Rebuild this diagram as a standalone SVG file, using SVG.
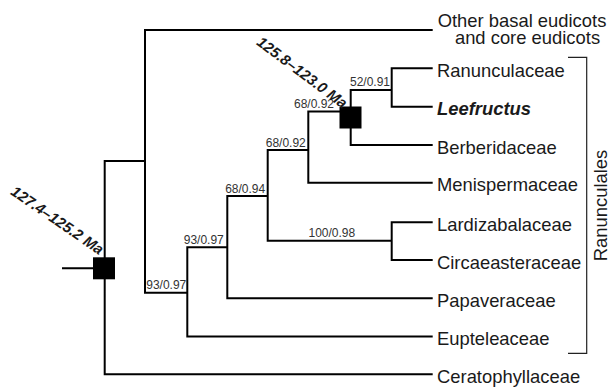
<svg xmlns="http://www.w3.org/2000/svg" width="610" height="388" viewBox="0 0 610 388">
<style>
.br{fill:none;stroke:#000;stroke-width:2;stroke-linecap:square;stroke-linejoin:miter}
.lf{font-family:"Liberation Sans",Arial,sans-serif;font-size:18.4px;fill:#1a1a1a}
.sp{font-family:"Liberation Sans",Arial,sans-serif;font-size:12px;fill:#333}
.age{font-family:"Liberation Sans",Arial,sans-serif;font-size:15px;font-weight:bold;font-style:italic;fill:#1a1a1a}
.sq{fill:#000}
</style>
<rect width="610" height="388" fill="#fff"/>
<g id="connectors">
<path class="br" d="M63,268.3H104.7M104.7,161V374.3H431.7M104.7,161H145M145,30V292.7M145,30H431.7M145,292.7H187.3M187.3,247.3V336.6H431.7M187.3,247.3H227.3M227.3,196V298.3H431.7M227.3,196H267.7M267.7,150V240.7H391.7M391.7,222.3V260M391.7,222.3H431.7M391.7,260H431.7M267.7,150H308.3M308.3,111.5V182.7H431.7M308.3,111.5H350.7M350.7,90V145H431.7M350.7,90H391.7M391.7,68.3V106.7M391.7,68.3H431.7M391.7,106.7H431.7"/>
<path d="M568,57.3H586.7V353.3H568" fill="none" stroke="#222" stroke-width="1.2"/>
</g>
<g id="root">
<rect class="sq" x="93" y="257.3" width="22" height="22"/>
<text class="age" transform="translate(54.5,224.5) rotate(34.5)" text-anchor="middle">127.4–125.2 Ma</text>
</g>
<g id="node-basal">
<text class="sp" x="186.3" y="289.3" text-anchor="end">93/0.97</text>
</g>
<g id="node-papav">
<text class="sp" x="223.8" y="243.6" text-anchor="end">93/0.97</text>
</g>
<g id="node-lardiz">
<text class="sp" x="265.2" y="192.6" text-anchor="end">68/0.94</text>
</g>
<g id="node-menisp">
<text class="sp" x="305.8" y="146.6" text-anchor="end">68/0.92</text>
</g>
<g id="node-berber">
<rect class="sq" x="339.5" y="106.5" width="22" height="22"/>
<text class="sp" x="334" y="108.3" text-anchor="end">68/0.92</text>
<text class="age" transform="translate(299,76.5) rotate(37)" text-anchor="middle">125.8–123.0 Ma</text>
</g>
<g id="node-ranunc">
<text class="sp" x="390" y="86" text-anchor="end">52/0.91</text>
</g>
<g id="node-lardcirc">
<text class="sp" x="308.5" y="236.8">100/0.98</text>
</g>
<g id="leaf-other">
<text class="lf" font-size="18.8" text-anchor="middle"><tspan x="522" y="26.5">Other basal eudicots</tspan><tspan x="527.5" y="43.5">and core eudicots</tspan></text>
</g>
<g id="leaf-ranunculaceae"><text class="lf" x="437" y="77">Ranunculaceae</text></g>
<g id="leaf-leefructus"><text class="lf" x="437" y="115.4" font-weight="bold" font-style="italic">Leefructus</text></g>
<g id="leaf-berberidaceae"><text class="lf" x="437" y="153.7">Berberidaceae</text></g>
<g id="leaf-menispermaceae"><text class="lf" x="437" y="191.4">Menispermaceae</text></g>
<g id="leaf-lardizabalaceae"><text class="lf" x="437" y="231">Lardizabalaceae</text></g>
<g id="leaf-circaeasteraceae"><text class="lf" x="437" y="268.7">Circaeasteraceae</text></g>
<g id="leaf-papaveraceae"><text class="lf" x="437" y="307">Papaveraceae</text></g>
<g id="leaf-eupteleaceae"><text class="lf" x="437" y="345.3">Eupteleaceae</text></g>
<g id="leaf-ceratophyllaceae"><text class="lf" x="437" y="383">Ceratophyllaceae</text></g>
<g id="clade-ranunculales">
<text class="lf" transform="translate(606.5,205.5) rotate(-90)" text-anchor="middle">Ranunculales</text>
</g>
</svg>
